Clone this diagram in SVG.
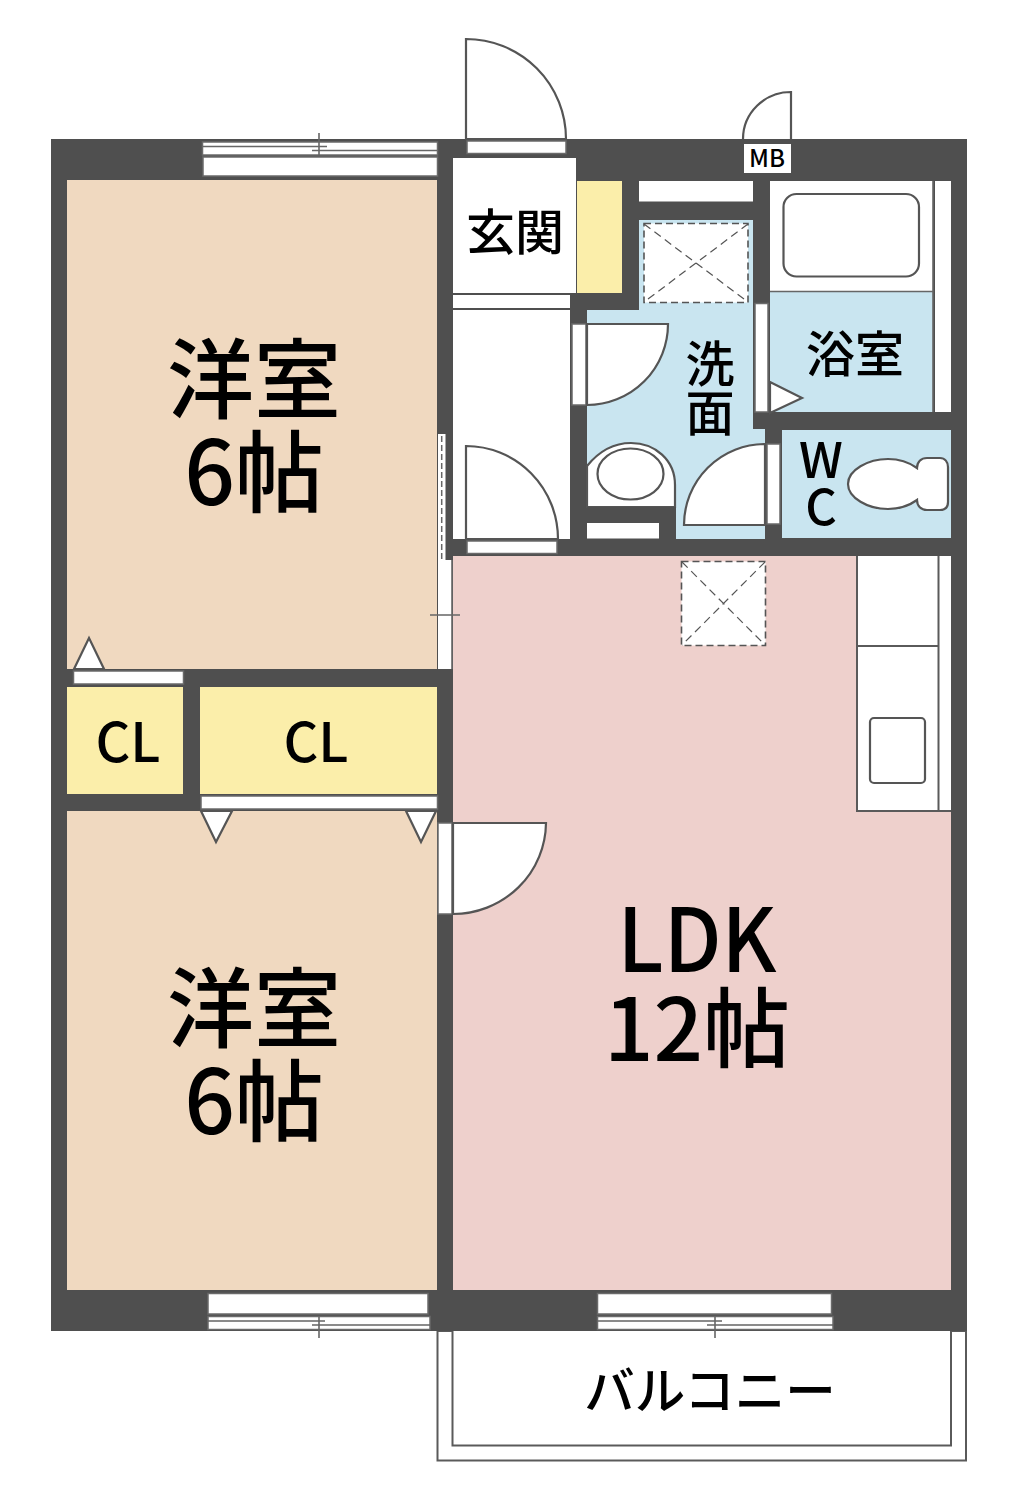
<svg xmlns="http://www.w3.org/2000/svg" width="1019" height="1500" viewBox="0 0 1019 1500">
<style>
.wall{fill:#4f4f4f}
.w{fill:#fff;stroke:#6a6a6a;stroke-width:1.5}
.f{fill:#fff;stroke:#555;stroke-width:2.2}
.l{fill:none;stroke:#666;stroke-width:1.6}
.d{fill:#fff;stroke:#555;stroke-width:1.6;stroke-dasharray:7 4}
.dl{fill:none;stroke:#555;stroke-width:1.2;stroke-dasharray:8 5}
.beige{fill:#f0d9c0}
.yel{fill:#fbeeaa}
.blue{fill:#c9e5f0}
.pink{fill:#eed0cc}
text{font-family:"Noto Sans CJK JP","Noto Sans",sans-serif;font-weight:500;fill:#000;text-anchor:middle}
</style>
<rect width="1019" height="1500" fill="#fff"/>
<g id="balcony">
<rect x="437.500" y="1331" width="528.500" height="129.500" fill="#fff" stroke="#5a5a5a" stroke-width="2"/>
<rect x="452.500" y="1320" width="498.500" height="125.500" fill="#fff" stroke="#5a5a5a" stroke-width="2"/>
</g>
<rect id="walls" class="wall" x="51" y="139" width="916" height="1192"/>
<g id="rooms">
<rect id="room-north" class="beige" x="67" y="180" width="370" height="489"/>
<rect id="room-south" class="beige" x="67" y="811" width="370" height="479"/>
<rect id="ldk" class="pink" x="453" y="556" width="498" height="734"/>
<rect id="cl1" class="yel" x="67" y="687" width="116" height="107"/>
<rect id="cl2" class="yel" x="200" y="687" width="237" height="107"/>
<rect id="genkan" x="453" y="158" width="123" height="135" fill="#fff"/>
<rect id="shoebox" class="yel" x="577" y="181" width="45" height="112"/>
<rect id="corridor" x="453" y="310" width="117" height="229" fill="#fff"/>
<rect x="453" y="295" width="117" height="13" fill="#fff"/>
<path id="washroom" class="blue" d="M587 310H639V220H753V429H765V539H587Z"/>
<rect id="bath" class="blue" x="770" y="292" width="163" height="120"/>
<rect x="770" y="181" width="163" height="110" fill="#fff"/>
<rect id="wc" class="blue" x="782" y="430" width="169" height="108"/>
</g>
<g id="windows">
<rect class="w" x="202.500" y="142" width="235" height="13"/>
<rect class="w" x="203" y="157" width="234.500" height="19" stroke="none"/>
<path class="l" d="M202 146.500H327M312 150.500H437M319 133V155"/>
<rect class="w" x="208" y="1293.500" width="220" height="20.500"/>
<rect class="w" x="208" y="1316.500" width="222" height="13"/>
<path class="l" d="M208 1321H325M312 1325H430M319 1316V1338"/>
<rect class="w" x="597.500" y="1293.500" width="234" height="20.500"/>
<rect class="w" x="597.500" y="1316.500" width="235.500" height="13"/>
<path class="l" d="M597 1321H722M707 1325H833M715 1316V1338"/>
<rect x="438" y="560" width="14" height="109" fill="#fff"/>
<rect x="438" y="434" width="7.500" height="126" fill="#fff"/>
<path class="l" d="M452 560V669M430 615H460"/>
<path d="M441.700 436V560" fill="none" stroke="#666" stroke-width="1.500" stroke-dasharray="6 3"/>
</g>
<g id="doors">
<rect class="w" x="467" y="141" width="99" height="12.500"/>
<path class="f" d="M466 139V39A100 100 0 0 1 566 139Z"/>
<path class="f" d="M791 139V92A48 47 0 0 0 743 139"/>
<rect class="w" x="467" y="541" width="90" height="12.500"/>
<path class="f" d="M466 539V446A92 93 0 0 1 558 539Z"/>
<rect class="w" x="572" y="324" width="14" height="81"/>
<path class="f" d="M587 324H668A81 81 0 0 1 587 405Z"/>
<rect class="w" x="767" y="444" width="13" height="80"/>
<path class="f" d="M765 444A81 81 0 0 0 684 525H765Z"/>
<rect class="w" x="755" y="303.500" width="13" height="108.500"/>
<path class="f" d="M770 382L802 398L770 413Z"/>
<rect class="w" x="438" y="823" width="14" height="91"/>
<path class="f" d="M453 823H546A93 92 0 0 1 453 914Z"/>
<rect class="w" x="73.500" y="671" width="110" height="13"/>
<path class="f" d="M74 669L89 638L104 669Z"/>
<rect class="w" x="201" y="796" width="236.500" height="13"/>
<path class="f" d="M201 811L216 842L232 811Z"/>
<path class="f" d="M406 811L421 842L436 811Z"/>
</g>
<g id="fixtures">
<rect x="639" y="181" width="114" height="20.500" fill="#fff"/>
<rect class="d" x="644" y="223.500" width="104" height="79"/>
<path class="dl" d="M644 224L748 302M748 224L644 302"/>
<rect class="d" x="681.500" y="561.500" width="84" height="84"/>
<path class="dl" d="M682 562L765 645M765 562L682 645"/>
<rect x="935" y="181" width="16" height="231" fill="#fff"/>
<rect class="f" x="783.500" y="194" width="135.500" height="82.500" rx="13"/>
<path class="l" d="M770 291.500H933M933 181V412"/>
<path class="f" d="M587 507V466C600 450 615 443 631 443C655 443 675 460 675 485V507Z"/>
<ellipse class="f" cx="630.500" cy="474" rx="33" ry="25.500"/>
<rect x="587" y="507" width="89" height="32" class="wall"/>
<rect x="587" y="523" width="72" height="15.500" fill="#fff"/>
<path class="f" d="M848 484C848 470 868 459 888 459C902 459 910 463 917 468C917 462 921 458 927 458H940C945 458 948 462 948 467V502C948 507 945 510 940 510H927C921 510 917 506 917 500C910 505 902 509 888 509C868 509 848 498 848 484Z"/>
<rect x="857" y="556" width="94" height="255" fill="#fff"/>
<path d="M951 811H857V556M938.500 556V811M857 646H938.500" fill="none" stroke="#5a5a5a" stroke-width="2"/>
<rect class="f" x="870" y="718" width="55" height="65" rx="4"/>
<rect x="744" y="144" width="47" height="29" fill="#fff"/>
</g>
<g id="labels">
<text x="254" y="412" font-size="87">洋室</text>
<text x="254" y="505" font-size="89">6帖</text>
<text x="254" y="1041" font-size="87">洋室</text>
<text x="254" y="1134" font-size="89">6帖</text>
<text x="697" y="972" font-size="88" textLength="159" lengthAdjust="spacingAndGlyphs">LDK</text>
<text x="697" y="1061" font-size="87">12帖</text>
<text x="515" y="250" font-size="49">玄関</text>
<text x="855" y="372" font-size="49">浴室</text>
<text x="710" y="382" font-size="49">洗</text>
<text x="710" y="431" font-size="49">面</text>
<text x="821" y="478" font-size="49">W</text>
<text x="821" y="525" font-size="49">C</text>
<text x="128" y="762" font-size="54">CL</text>
<text x="316" y="762" font-size="54">CL</text>
<text x="767" y="167" font-size="24">MB</text>
<text x="710" y="1409" font-size="50.500" font-weight="400">バルコニー</text>
</g>
</svg>
